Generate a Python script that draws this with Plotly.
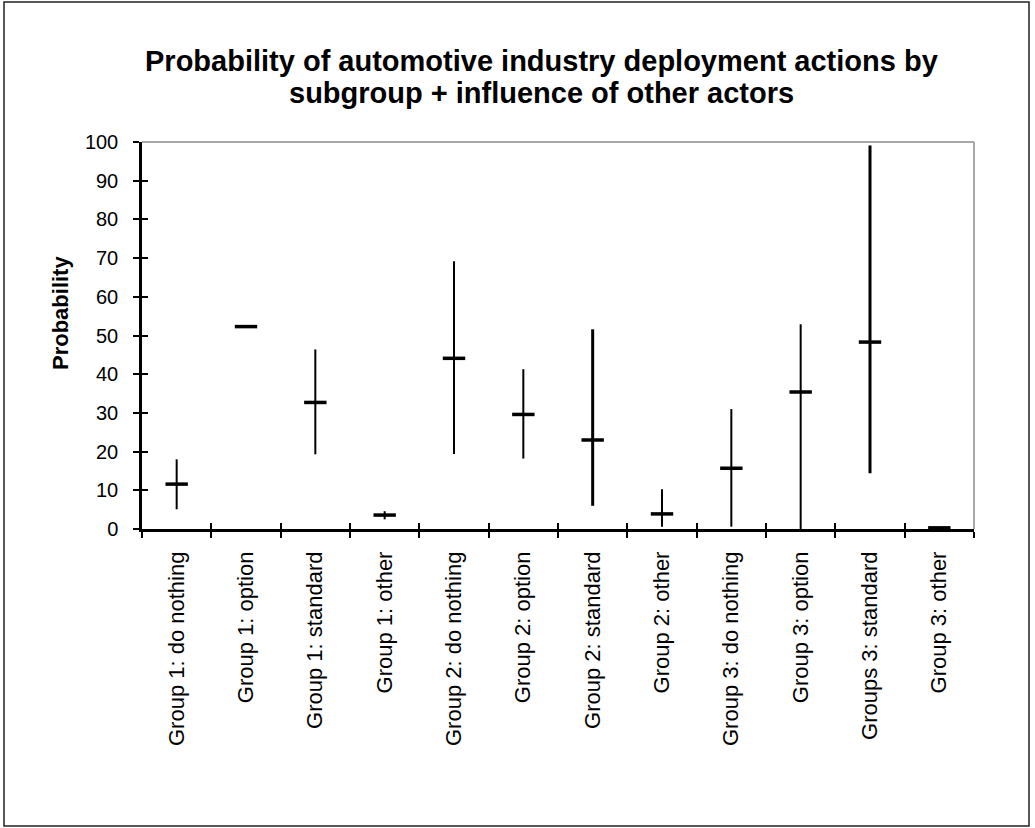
import plotly.graph_objects as go

# ---------------- data ----------------
categories = [
    "Group 1: do nothing", "Group 1: option", "Group 1: standard", "Group 1: other",
    "Group 2: do nothing", "Group 2: option", "Group 2: standard", "Group 2: other",
    "Group 3: do nothing", "Group 3: option", "Groups 3: standard", "Group 3: other",
]
medians = [11.6, 52.3, 32.7, 3.6, 44.1, 29.6, 23.0, 3.9, 15.7, 35.4, 48.3, 0.3]
lows    = [5.1, 52.3, 19.3, 2.5, 19.4, 18.2, 6.0, 0.6, 0.6, 0.0, 14.4, 0.3]
highs   = [18.0, 52.3, 46.4, 4.6, 69.2, 41.3, 51.6, 10.3, 31.0, 52.9, 99.1, 0.3]
y_ticks = [0, 10, 20, 30, 40, 50, 60, 70, 80, 90, 100]

title_lines = ["Probability of automotive industry deployment actions by",
               "subgroup + influence of other actors"]
y_title = "Probability"

# ---------------- styling ----------------
THICK = {"Group 2: standard", "Groups 3: standard"}
FONT = "Liberation Sans, Arial, Helvetica, sans-serif"
W, H = 1035, 828
L, R, T, B = 142, 61, 142, 299
PW, PH = W - L - R, H - T - B


def px(xpix):
    return (xpix - L) / PW


def py(ypix):
    return (H - B - ypix) / PH


fig = go.Figure()

for thick in (False, True):
    idx = [i for i, c in enumerate(categories) if (c in THICK) == thick]
    fig.add_trace(go.Scatter(
        x=[categories[i] for i in idx],
        y=[medians[i] for i in idx],
        mode="markers",
        marker=dict(symbol="line-ew", size=16, color="black",
                    line=dict(color="black", width=3.5)),
        error_y=dict(type="data", symmetric=False,
                     array=[highs[i] - medians[i] for i in idx],
                     arrayminus=[medians[i] - lows[i] for i in idx],
                     width=0, thickness=3 if thick else 2, color="black"),
        cliponaxis=False,
        showlegend=False,
        hoverinfo="x+y",
    ))

# invisible trace for overlay axes (crossing ticks)
fig.add_trace(go.Scatter(x=categories, y=medians, xaxis="x2", yaxis="y2",
                         mode="markers", marker=dict(opacity=0),
                         showlegend=False, hoverinfo="skip"))

fig.update_layout(
    width=W, height=H,
    margin=dict(l=L, r=R, t=T, b=B, pad=0),
    paper_bgcolor="white", plot_bgcolor="white",
    font=dict(family=FONT, color="black"),
    xaxis=dict(
        type="category", categoryorder="array", categoryarray=categories,
        range=[-0.5, len(categories) - 0.5],
        tickson="boundaries", ticks="outside", ticklen=6, tickwidth=2, tickcolor="black",
        showline=True, linecolor="black", linewidth=2.5, showgrid=False, zeroline=False,
        tickangle=-90, tickfont=dict(family=FONT, size=22, color="black"),
        ticklabelstandoff=11,
    ),
    yaxis=dict(
        range=[0, 100], tickvals=y_ticks, ticktext=[str(v) for v in y_ticks],
        ticks="outside", ticklen=6, tickwidth=2, tickcolor="black",
        showline=True, linecolor="black", linewidth=2.5, showgrid=False, zeroline=False,
        tickfont=dict(family=FONT, size=20, color="black"),
        ticklabelstandoff=11,
    ),
    xaxis2=dict(
        type="category", categoryorder="array", categoryarray=categories,
        range=[-0.5, len(categories) - 0.5], overlaying="x", anchor="y", side="bottom",
        tickson="boundaries", ticks="inside", ticklen=6, tickwidth=2, tickcolor="black",
        showticklabels=False, showline=False, showgrid=False, zeroline=False,
    ),
    yaxis2=dict(
        range=[0, 100], tickvals=y_ticks, overlaying="y", anchor="x", side="left",
        ticks="inside", ticklen=6, tickwidth=2, tickcolor="black",
        showticklabels=False, showline=False, showgrid=False, zeroline=False,
    ),
)

# plot-area top & right border (gray)
fig.add_shape(type="line", xref="paper", yref="paper", x0=0, x1=1, y0=1, y1=1,
              line=dict(color="#8c8c8c", width=1.5))
fig.add_shape(type="line", xref="paper", yref="paper", x0=1, x1=1, y0=0, y1=1,
              line=dict(color="#8c8c8c", width=1.5))
# outer chart border
fig.add_shape(type="rect", xref="paper", yref="paper",
              x0=px(4), x1=px(1029), y0=py(826), y1=py(2),
              line=dict(color="#222222", width=1.5))

# title (two lines)
for line, ypix in zip(title_lines, (61, 93)):
    fig.add_annotation(text=f"<b>{line}</b>", xref="paper", yref="paper",
                       x=px(541), y=py(ypix), xanchor="center", yanchor="middle",
                       showarrow=False, font=dict(family=FONT, size=29, color="black"))

# y-axis title
fig.add_annotation(text=f"<b>{y_title}</b>", xref="paper", yref="paper",
                   x=px(60), y=py(313), xanchor="center", yanchor="middle",
                   textangle=-90, showarrow=False,
                   font=dict(family=FONT, size=22, color="black"))

fig.write_html("out.html", config={"displayModeBar": False},
               post_script="document.body.style.margin='0px';document.body.style.overflow='hidden';")
